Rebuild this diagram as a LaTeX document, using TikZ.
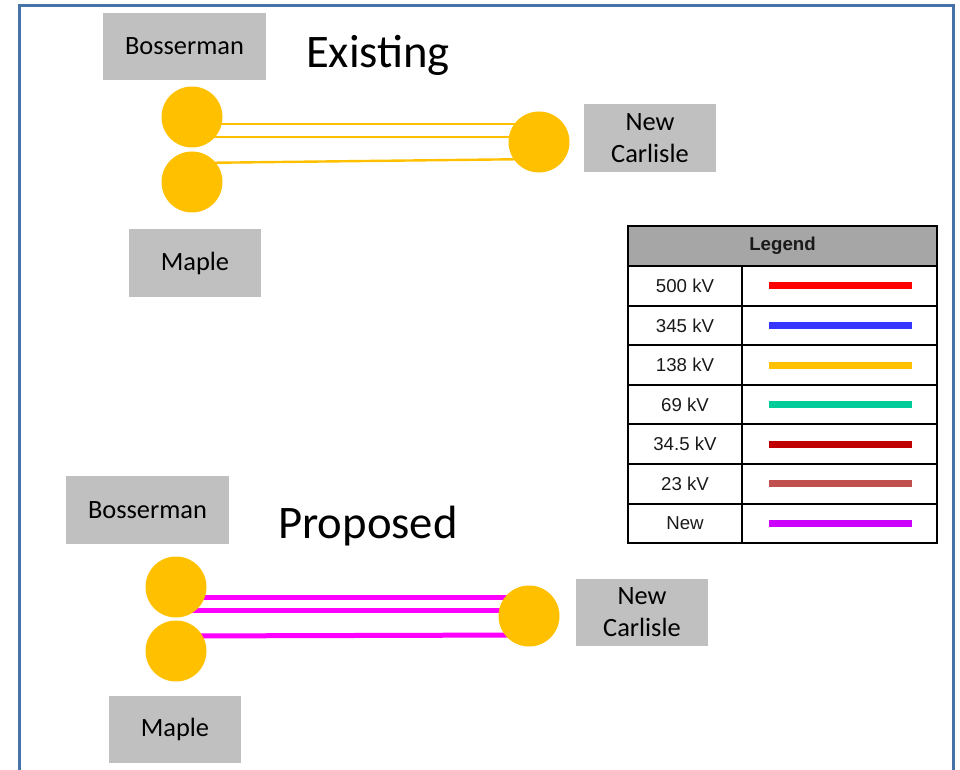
\documentclass[tikz,border=0pt]{standalone}
\usepackage{fontspec}
\setmainfont{Carlito}
\newfontfamily\legendfont{Liberation Sans}
\usepackage{tikz}
\usetikzlibrary{positioning,calc,backgrounds}
\definecolor{BusGold}{RGB}{255,192,0}
\definecolor{FrameBlue}{RGB}{70,114,168}
\definecolor{LabelGray}{RGB}{192,192,192}
\definecolor{HeadGray}{RGB}{166,166,166}
\definecolor{NewMagenta}{RGB}{255,0,255}
\definecolor{KVRed}{RGB}{255,0,0}
\definecolor{KVBlue}{RGB}{53,53,255}
\definecolor{KVGold}{RGB}{255,192,0}
\definecolor{KVGreen}{RGB}{0,204,153}
\definecolor{KVDark}{RGB}{192,0,0}
\definecolor{KVBrick}{RGB}{192,80,77}
\definecolor{KVViolet}{RGB}{204,0,255}

\begin{document}
\begin{tikzpicture}[
    x=0.75pt, y=-0.75pt,
    subname/.style = {rectangle, fill=LabelGray, inner sep=0pt,
                      minimum height=50.5pt, align=center,
                      font=\fontsize{19.8}{24}\selectfont},
    wide/.style    = {subname, minimum width=122.25pt},
    narrow/.style  = {subname, minimum width=99pt},
    heading/.style = {font=\fontsize{35}{40}\selectfont, inner sep=0pt},
    bus/.style     = {circle, fill=BusGold, minimum size=45.75pt, inner sep=0pt},
    oldline/.style = {KVGold, line width=1.8pt},
    newline/.style = {NewMagenta, line width=3.75pt},
    cell/.style    = {rectangle, draw=black, line width=1.5pt, inner sep=0pt,
                      minimum height=29.7pt, font=\legendfont\fontsize{14}{16}\selectfont,
                      text=black!90},
    labcell/.style = {cell, minimum width=85.5pt},
    swcell/.style  = {cell, minimum width=146.25pt},
    legline/.style = {line width=5.25pt},
]
\useasboundingbox (0,0) rectangle (960,770);
\clip (0,0) rectangle (960,770);

% ─── Frame ───────────────────────────────────────────────────────────────
\draw[FrameBlue, line width=2.25pt] (19.5,5.5) rectangle (953.5,800);

% ─── Existing ────────────────────────────────────────────────────────────
\node[wide] (bos_old) at (184.5,46.5) {Bosserman};
\node[heading] (existing) at (378,55) {Existing};
\node[narrow] (nc_old) at (650,138) {New\\Carlisle};
\node[narrow] (maple_old) at (195,263) {Maple};

\node[bus] (bos_bus_old) at (192,117) {};
\node[bus] (maple_bus_old) at (192,182) {};
\node[bus] (nc_bus_old) at (539,142) {};

\coordinate (old_a) at ($(bos_bus_old.center)+(0,7)$);
\coordinate (old_b) at ($(bos_bus_old.center)+(0,20)$);
\begin{scope}[on background layer]
  \draw[oldline] (old_a) -- (old_a -| nc_bus_old.center);
  \draw[oldline] (old_b) -- (old_b -| nc_bus_old.center);
  \draw[oldline] ($(maple_bus_old.center)+(0,-19)$) -- ($(nc_bus_old.center)+(0,17)$);
\end{scope}

% ─── Proposed ────────────────────────────────────────────────────────────
\node[wide] (bos_new) at (147.5,510) {Bosserman};
\node[heading] (proposed) at (368,526) {Proposed};
\node[narrow] (nc_new) at (642,612.5) {New\\Carlisle};
\node[narrow] (maple_new) at (175,729.5) {Maple};

\node[bus] (bos_bus_new) at (176,587) {};
\node[bus] (maple_bus_new) at (176,651) {};
\node[bus] (nc_bus_new) at (529,616) {};

\coordinate (new_a) at ($(bos_bus_new.center)+(0,10)$);
\coordinate (new_b) at ($(bos_bus_new.center)+(0,23)$);
\begin{scope}[on background layer]
  \draw[newline] (new_a) -- (new_a -| nc_bus_new.center);
  \draw[newline] (new_b) -- (new_b -| nc_bus_new.center);
  \draw[newline] ($(maple_bus_new.center)+(0,-15)$) -- ($(nc_bus_new.center)+(0,19)$);
\end{scope}

% ─── Legend ──────────────────────────────────────────────────────────────
\node[cell, fill=HeadGray, minimum width=231.75pt, minimum height=30pt,
      font=\legendfont\bfseries\fontsize{14}{16}\selectfont] (leghead) at (782.5,246) {Legend};

\foreach \lab/\col [count=\i from 0] in
    {500 kV/KVRed, 345 kV/KVBlue, 138 kV/KVGold, 69 kV/KVGreen,
     34.5 kV/KVDark, 23 kV/KVBrick, New/KVViolet} {
  \node[labcell] (kvlab\i) at (685,{285.8+39.6*\i}) {\lab};
  \node[swcell] (kvsw\i) at (839.5,{285.8+39.6*\i}) {};
  \draw[legline, \col] ([xshift=21pt]kvsw\i.west) -- ([xshift=-19.5pt]kvsw\i.east);
}

\end{tikzpicture}
\end{document}
